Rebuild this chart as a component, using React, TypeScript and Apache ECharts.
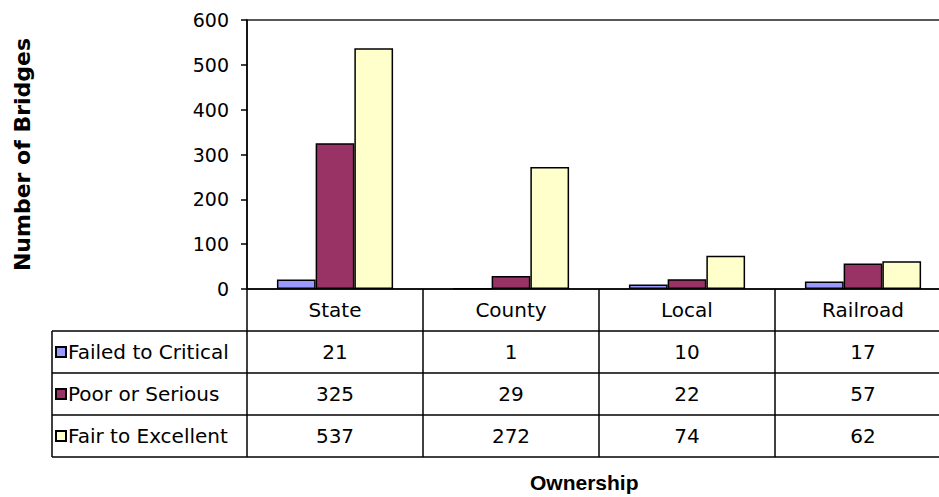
import React, { useEffect, useRef } from "react";
import * as echarts from "echarts";

const categories = ["State", "County", "Local", "Railroad"];
const seriesNames = ["Failed to Critical", "Poor or Serious", "Fair to Excellent"];
const failedToCritical = [21, 1, 10, 17];
const poorOrSerious = [325, 29, 22, 57];
const fairToExcellent = [537, 272, 74, 62];
const yTicks = [0, 100, 200, 300, 400, 500, 600];
const colors = ["#9999FF", "#993366", "#FFFFCC"];

const FONT = '"DejaVu Sans", Verdana, sans-serif';
const BOLD_FONT = 'Arial, "Liberation Sans", sans-serif';

export default function App() {
  const ref = useRef<HTMLDivElement>(null);
  useEffect(() => {
    if (!ref.current) return;
    const chart = echarts.init(ref.current, undefined, { renderer: "svg" });
    const values = [failedToCritical, poorOrSerious, fairToExcellent];

    const gridLeft = 247;
    const gridTop = 20;
    const gridBottomY = 289;
    const gridWidth = 704;
    const rowH = 42;
    const tableLeft = 52;
    const tableRight = gridLeft + gridWidth;
    const tableBottom = gridBottomY + rowH * 4;

    const hLines = [1, 2, 3, 4].map((i) => ({
      type: "line",
      shape: { x1: tableLeft, y1: gridBottomY + rowH * i, x2: tableRight, y2: gridBottomY + rowH * i },
      style: { stroke: "#000", lineWidth: 1.5 },
      silent: true,
    }));

    chart.setOption({
      animation: false,
      backgroundColor: "#fff",
      textStyle: { fontFamily: FONT },
      title: {
        text: "Ownership",
        left: 530,
        top: 472,
        padding: 0,
        textStyle: { fontFamily: BOLD_FONT, fontSize: 21, fontWeight: "bold", color: "#000" },
      },
      legend: {
        orient: "vertical",
        left: tableLeft + 3,
        top: gridBottomY + rowH,
        padding: 0,
        itemGap: 0,
        itemWidth: 10,
        itemHeight: 10,
        icon: "rect",
        selectedMode: false,
        data: seriesNames,
        textStyle: { fontFamily: FONT, fontSize: 20, color: "#000", lineHeight: rowH, padding: [0, 0, 0, -3] },
      },
      grid: {
        left: gridLeft,
        top: gridTop,
        width: gridWidth,
        height: gridBottomY - gridTop,
        show: true,
        borderColor: "#222",
        borderWidth: 1.5,
        containLabel: false,
      },
      xAxis: {
        type: "category",
        data: categories,
        axisLine: { lineStyle: { color: "#000", width: 1.5 } },
        axisTick: { show: true, interval: 0, length: rowH * 4, alignWithLabel: false, lineStyle: { color: "#000", width: 1.5 } },
        axisLabel: {
          interval: 0,
          margin: 0,
          fontFamily: FONT,
          fontSize: 20,
          color: "#000",
          lineHeight: rowH,
          formatter: (v: string, idx: number) =>
            [v, ...values.map((arr) => String(arr[idx]))].join("\n"),
        },
        splitLine: { show: false },
      },
      yAxis: {
        type: "value",
        min: yTicks[0],
        max: yTicks[yTicks.length - 1],
        interval: 100,
        name: "Number of Bridges",
        nameLocation: "middle",
        nameRotate: 90,
        nameGap: 214,
        nameTextStyle: { fontFamily: FONT, fontSize: 22, fontWeight: "bold", color: "#000" },
        axisLine: { show: true, lineStyle: { color: "#000", width: 1.5 } },
        axisTick: { show: true, length: 6, lineStyle: { color: "#000", width: 1.5 } },
        axisLabel: { margin: 18, fontFamily: FONT, fontSize: 19, color: "#000" },
        splitLine: { show: false },
      },
      series: seriesNames.map((name, i) => ({
        name,
        type: "bar",
        data: values[i],
        barGap: "0%",
        barCategoryGap: "34%",
        itemStyle: { color: colors[i], borderColor: "#000", borderWidth: 1.5 },
      })),
      graphic: [
        ...hLines,
        {
          type: "line",
          shape: { x1: tableLeft, y1: gridBottomY + rowH, x2: tableLeft, y2: tableBottom },
          style: { stroke: "#000", lineWidth: 1.5 },
          silent: true,
        },
      ],
    });
    return () => chart.dispose();
  }, []);
  return (
    <div
      ref={ref}
      style={{ position: "fixed", left: 0, top: 0, width: 960, height: 497 }}
    />
  );
}
